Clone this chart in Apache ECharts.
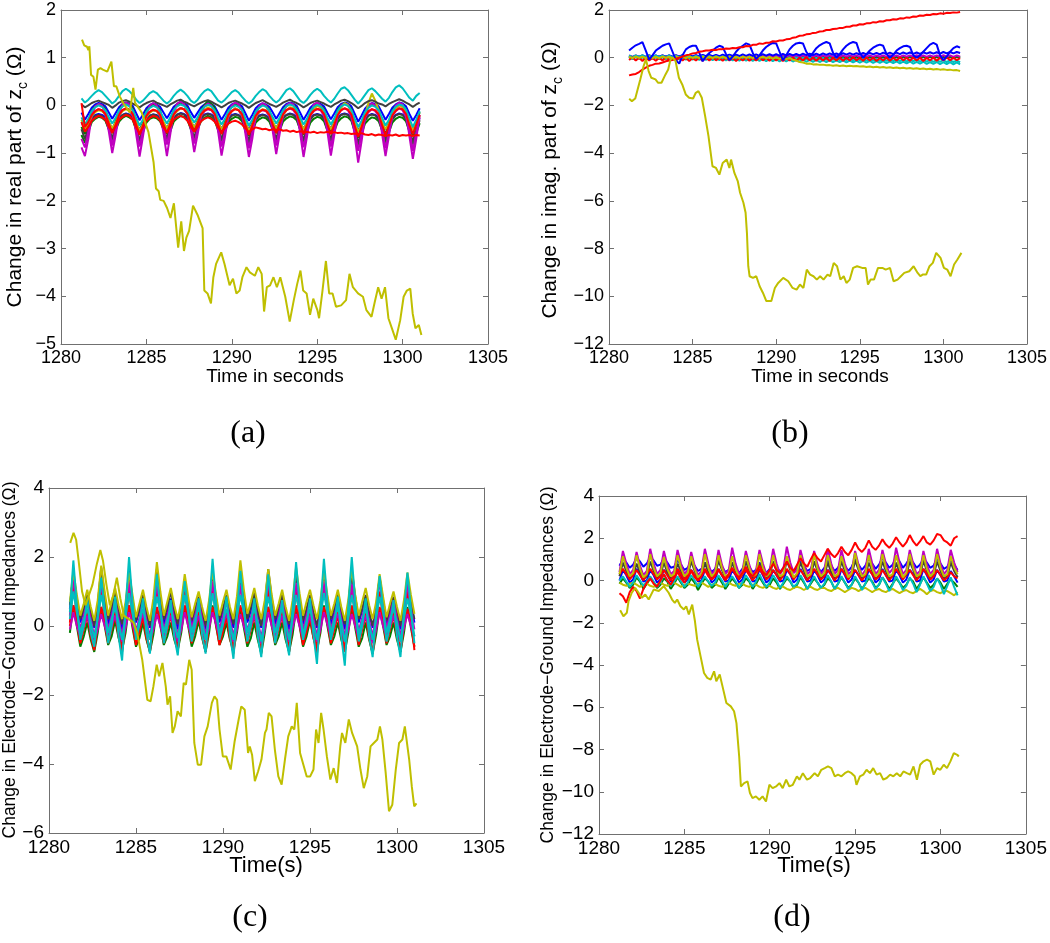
<!DOCTYPE html>
<html><head><meta charset="utf-8">
<script src="https://cdn.jsdelivr.net/npm/echarts@6/dist/echarts.min.js"></script>
<style>html,body{margin:0;padding:0;background:#fff}#c{width:1050px;height:943px}</style>
</head><body><div id="c"></div>
<script>
// common sample times (s)
const T = [
1281.2,1281.4,1281.6,1281.8,1282.0,1282.2,1282.4,1282.6,1282.8,1283.0,
1283.2,1283.4,1283.6,1283.8,1284.0,1284.2,1284.4,1284.6,1284.8,1285.0,
1285.2,1285.4,1285.6,1285.8,1286.0,1286.2,1286.4,1286.6,1286.8,1287.0,
1287.2,1287.4,1287.6,1287.8,1288.0,1288.2,1288.4,1288.6,1288.8,1289.0,
1289.2,1289.4,1289.6,1289.8,1290.0,1290.2,1290.4,1290.6,1290.8,1291.0,
1291.2,1291.4,1291.6,1291.8,1292.0,1292.2,1292.4,1292.6,1292.8,1293.0,
1293.2,1293.4,1293.6,1293.8,1294.0,1294.2,1294.4,1294.6,1294.8,1295.0,
1295.2,1295.4,1295.6,1295.8,1296.0,1296.2,1296.4,1296.6,1296.8,1297.0,
1297.2,1297.4,1297.6,1297.8,1298.0,1298.2,1298.4,1298.6,1298.8,1299.0,
1299.2,1299.4,1299.6,1299.8,1300.0,1300.2,1300.4,1300.6,1300.8,1301.0];

const xTicks = [1280,1285,1290,1295,1300,1305];

// ---------- panel (a): real part ----------
const aOut = [[1281.23,1.38],[1281.36,1.26],[1281.52,1.23],[1281.6,1.16],[1281.66,1.24],[1281.76,0.64],[1281.9,0.6],[1282.02,0.33],[1282.16,0.75],[1282.31,0.78],[1282.45,0.75],[1282.71,0.71],[1282.95,0.92],[1283.1,0.4],[1283.24,0.4],[1283.44,0.19],[1283.64,0.05],[1284.03,-0.15],[1284.23,0.37],[1284.33,0.06],[1284.73,-0.15],[1285.12,-0.56],[1285.42,-1.19],[1285.56,-1.74],[1285.72,-1.8],[1285.81,-1.98],[1286.01,-2.0],[1286.21,-2.15],[1286.41,-2.36],[1286.61,-2.05],[1286.7,-2.08],[1286.86,-2.98],[1287.04,-2.43],[1287.2,-3.05],[1287.34,-2.77],[1287.5,-2.63],[1287.73,-2.1],[1287.99,-2.29],[1288.29,-2.57],[1288.39,-3.88],[1288.58,-3.94],[1288.78,-4.15],[1288.92,-3.6],[1289.08,-3.32],[1289.38,-3.08],[1289.57,-3.32],[1289.87,-3.77],[1290.07,-3.63],[1290.27,-3.94],[1290.46,-3.88],[1290.62,-3.6],[1290.86,-3.39],[1291.06,-3.5],[1291.35,-3.57],[1291.55,-3.39],[1291.75,-3.53],[1291.89,-4.32],[1292.05,-3.81],[1292.24,-3.77],[1292.44,-3.6],[1292.64,-3.81],[1292.84,-3.6],[1293.13,-4.01],[1293.39,-4.53],[1293.63,-4.08],[1293.83,-3.74],[1294.02,-3.46],[1294.18,-3.88],[1294.38,-3.94],[1294.58,-4.39],[1294.77,-4.05],[1295.01,-4.29],[1295.11,-4.46],[1295.31,-3.88],[1295.51,-3.26],[1295.7,-3.94],[1295.9,-3.94],[1296.1,-4.22],[1296.4,-4.19],[1296.69,-4.08],[1296.89,-3.53],[1297.09,-3.81],[1297.39,-3.94],[1297.68,-4.01],[1297.88,-4.29],[1298.18,-4.43],[1298.37,-4.12],[1298.57,-3.81],[1298.77,-4.05],[1298.97,-3.81],[1299.17,-4.46],[1299.4,-4.7],[1299.6,-4.91],[1299.86,-4.5],[1300.06,-4.01],[1300.25,-3.88],[1300.45,-3.84],[1300.59,-4.36],[1300.75,-4.67],[1300.95,-4.6],[1301.1,-4.81]];
const aMagA = [-0.88,
-1.06,-0.7,-0.2,-0.02,0.03,0.0,-0.12,-0.55,
-1.0,-0.62,-0.18,0.02,0.06,0.02,-0.1,-0.6,
-1.07,-0.65,-0.2,0.0,0.05,0.0,-0.15,-0.58,
-1.06,-0.6,-0.15,0.04,0.08,0.03,-0.1,-0.5,
-0.98,-0.6,-0.2,-0.02,0.04,0.0,-0.12,-0.55,
-1.05,-0.66,-0.2,0.0,0.06,0.02,-0.1,-0.6,
-1.08,-0.7,-0.22,-0.02,0.05,0.0,-0.15,-0.55,
-1.02,-0.6,-0.18,0.0,0.05,0.02,-0.12,-0.58,
-1.08,-0.66,-0.2,0.02,0.06,0.0,-0.14,-0.56,
-1.05,-0.62,-0.18,0.0,0.04,0.02,-0.12,-0.65,
-1.2,-0.75,-0.25,-0.02,0.05,0.0,-0.12,-0.6,
-1.06,-0.64,-0.2,0.0,0.06,0.02,-0.15,-0.65,
-1.12,-0.7,-0.2];
const aMagB = [-0.7,
-0.88,-0.55,-0.22,-0.12,-0.08,-0.1,-0.2,-0.45,
-0.84,-0.5,-0.2,-0.1,-0.06,-0.1,-0.22,-0.48,
-0.86,-0.52,-0.24,-0.14,-0.1,-0.12,-0.2,-0.44,
-0.82,-0.48,-0.2,-0.1,-0.05,-0.08,-0.18,-0.42,
-0.8,-0.5,-0.22,-0.12,-0.08,-0.1,-0.2,-0.46,
-0.86,-0.55,-0.24,-0.12,-0.06,-0.1,-0.22,-0.5,
-0.9,-0.56,-0.25,-0.14,-0.1,-0.12,-0.22,-0.45,
-0.84,-0.5,-0.2,-0.1,-0.06,-0.1,-0.2,-0.46,
-0.88,-0.54,-0.22,-0.12,-0.08,-0.1,-0.22,-0.48,
-0.86,-0.52,-0.2,-0.1,-0.06,-0.1,-0.24,-0.52,
-0.95,-0.6,-0.26,-0.14,-0.08,-0.12,-0.22,-0.48,
-0.9,-0.55,-0.22,-0.12,-0.06,-0.1,-0.24,-0.52,
-0.95,-0.58,-0.25];
const aGrnA = [-0.62,
-0.78,-0.55,-0.35,-0.28,-0.24,-0.26,-0.32,-0.5,
-0.75,-0.52,-0.34,-0.26,-0.22,-0.25,-0.3,-0.52,
-0.8,-0.56,-0.36,-0.28,-0.25,-0.27,-0.33,-0.5,
-0.76,-0.54,-0.34,-0.27,-0.22,-0.24,-0.3,-0.5,
-0.72,-0.5,-0.33,-0.26,-0.22,-0.25,-0.32,-0.52,
-0.78,-0.55,-0.35,-0.28,-0.24,-0.26,-0.33,-0.54,
-0.8,-0.56,-0.36,-0.29,-0.25,-0.27,-0.34,-0.52,
-0.76,-0.53,-0.34,-0.27,-0.23,-0.25,-0.31,-0.5,
-0.8,-0.56,-0.36,-0.28,-0.24,-0.26,-0.33,-0.53,
-0.78,-0.54,-0.35,-0.27,-0.23,-0.25,-0.32,-0.55,
-0.85,-0.6,-0.38,-0.3,-0.25,-0.27,-0.33,-0.52,
-0.8,-0.56,-0.36,-0.28,-0.24,-0.26,-0.33,-0.55,
-0.82,-0.58,-0.37];
const aGrnB = [-0.45,
-0.6,-0.35,-0.12,-0.02,0.03,0.0,-0.08,-0.35,
-0.58,-0.32,-0.1,0.0,0.05,0.02,-0.06,-0.36,
-0.62,-0.36,-0.12,-0.02,0.02,0.0,-0.1,-0.38,
-0.6,-0.34,-0.1,0.02,0.06,0.03,-0.06,-0.34,
-0.56,-0.32,-0.1,0.0,0.1,0.04,-0.05,-0.35,
-0.6,-0.35,-0.12,-0.02,0.03,0.0,-0.08,-0.38,
-0.64,-0.38,-0.14,-0.04,0.02,0.0,-0.1,-0.36,
-0.58,-0.33,-0.1,0.0,0.04,0.02,-0.07,-0.36,
-0.62,-0.36,-0.12,-0.02,0.03,0.0,-0.08,-0.37,
-0.6,-0.34,-0.1,0.0,0.05,0.02,-0.08,-0.4,
-0.68,-0.4,-0.15,-0.03,0.03,0.0,-0.08,-0.38,
-0.62,-0.36,-0.12,-0.01,0.04,0.01,-0.09,-0.4,
-0.64,-0.38,-0.14];
const aBluA = [-0.35,
-0.5,-0.38,-0.26,-0.2,-0.18,-0.2,-0.24,-0.36,
-0.48,-0.36,-0.25,-0.2,-0.17,-0.19,-0.24,-0.38,
-0.5,-0.38,-0.27,-0.21,-0.19,-0.2,-0.25,-0.37,
-0.47,-0.35,-0.25,-0.19,-0.16,-0.18,-0.23,-0.35,
-0.45,-0.34,-0.24,-0.19,-0.17,-0.19,-0.24,-0.37,
-0.49,-0.37,-0.26,-0.2,-0.18,-0.2,-0.25,-0.38,
-0.5,-0.38,-0.27,-0.21,-0.19,-0.21,-0.26,-0.37,
-0.47,-0.35,-0.25,-0.2,-0.17,-0.19,-0.24,-0.36,
-0.49,-0.37,-0.26,-0.2,-0.18,-0.2,-0.25,-0.38,
-0.48,-0.36,-0.25,-0.19,-0.17,-0.19,-0.25,-0.39,
-0.52,-0.4,-0.28,-0.21,-0.18,-0.2,-0.25,-0.38,
-0.5,-0.38,-0.26,-0.2,-0.17,-0.19,-0.25,-0.39,
-0.5,-0.38,-0.27];
const aBluB = [-0.15,
-0.3,-0.18,-0.05,0.02,0.05,0.03,-0.02,-0.15,
-0.28,-0.16,-0.04,0.03,0.06,0.04,-0.01,-0.16,
-0.31,-0.19,-0.06,0.01,0.04,0.02,-0.03,-0.15,
-0.27,-0.15,-0.03,0.03,0.07,0.05,0.0,-0.14,
-0.26,-0.15,-0.04,0.02,0.05,0.03,-0.02,-0.16,
-0.3,-0.18,-0.05,0.02,0.05,0.03,-0.02,-0.17,
-0.32,-0.2,-0.06,0.01,0.04,0.02,-0.03,-0.15,
-0.28,-0.16,-0.04,0.03,0.06,0.04,-0.01,-0.15,
-0.3,-0.18,-0.05,0.02,0.05,0.03,-0.02,-0.16,
-0.29,-0.17,-0.04,0.03,0.06,0.04,-0.02,-0.18,
-0.34,-0.21,-0.07,0.01,0.05,0.03,-0.02,-0.16,
-0.3,-0.18,-0.05,0.02,0.06,0.04,-0.02,-0.18,
-0.32,-0.2,-0.06];
const aGryA = [0.02,
-0.04,0.0,0.05,0.08,0.1,0.07,0.04,0.01,
-0.05,0.0,0.06,0.09,0.11,0.08,0.04,0.0,
-0.04,0.01,0.05,0.08,0.1,0.06,0.03,0.0,
-0.03,0.02,0.06,0.1,0.12,0.08,0.05,0.01,
-0.02,0.02,0.06,0.09,0.11,0.08,0.04,0.0,
-0.04,0.0,0.05,0.08,0.1,0.07,0.04,0.0,
-0.05,0.0,0.05,0.08,0.11,0.07,0.03,0.0,
-0.03,0.01,0.06,0.09,0.12,0.08,0.05,0.01,
-0.04,0.0,0.05,0.08,0.1,0.07,0.04,0.0,
-0.03,0.02,0.06,0.1,0.12,0.09,0.05,0.0,
-0.06,-0.01,0.05,0.09,0.11,0.08,0.04,0.02,
-0.02,0.03,0.07,0.1,0.13,0.1,0.06,0.02,
-0.03,0.02,0.06];
const aGryB = [-0.5,
-0.7,-0.48,-0.3,-0.22,-0.2,-0.22,-0.3,-0.5,
-0.68,-0.46,-0.28,-0.2,-0.18,-0.2,-0.28,-0.5,
-0.72,-0.5,-0.3,-0.22,-0.19,-0.21,-0.3,-0.5,
-0.68,-0.46,-0.28,-0.2,-0.17,-0.19,-0.27,-0.48,
-0.66,-0.45,-0.28,-0.2,-0.18,-0.2,-0.28,-0.5,
-0.7,-0.48,-0.3,-0.22,-0.19,-0.21,-0.29,-0.52,
-0.73,-0.5,-0.31,-0.23,-0.2,-0.22,-0.3,-0.5,
-0.69,-0.47,-0.28,-0.2,-0.18,-0.2,-0.28,-0.5,
-0.72,-0.49,-0.3,-0.21,-0.19,-0.21,-0.29,-0.51,
-0.7,-0.48,-0.29,-0.2,-0.18,-0.2,-0.3,-0.54,
-0.78,-0.54,-0.32,-0.22,-0.19,-0.21,-0.29,-0.52,
-0.72,-0.5,-0.3,-0.21,-0.18,-0.2,-0.3,-0.54,
-0.75,-0.52,-0.31];
const aCyA = [0.15,
0.06,0.12,0.2,0.27,0.32,0.28,0.2,0.12,
0.04,0.1,0.2,0.3,0.35,0.3,0.22,0.12,
0.05,0.1,0.18,0.26,0.3,0.26,0.18,0.1,
0.04,0.1,0.2,0.28,0.33,0.28,0.2,0.1,
0.05,0.12,0.22,0.3,0.34,0.3,0.2,0.1,
0.06,0.12,0.2,0.28,0.32,0.27,0.18,0.1,
0.04,0.1,0.2,0.28,0.34,0.3,0.2,0.12,
0.06,0.12,0.22,0.32,0.36,0.3,0.2,0.1,
0.05,0.12,0.22,0.3,0.35,0.3,0.2,0.12,
0.06,0.14,0.25,0.35,0.38,0.32,0.22,0.12,
0.04,0.12,0.22,0.32,0.36,0.3,0.22,0.14,
0.08,0.16,0.28,0.38,0.42,0.36,0.26,0.16,
0.1,0.2,0.26];
const aCyB = [-0.25,
-0.4,-0.28,-0.12,-0.04,0.0,-0.03,-0.1,-0.25,
-0.38,-0.26,-0.1,-0.02,0.02,-0.02,-0.1,-0.26,
-0.42,-0.3,-0.13,-0.05,-0.01,-0.04,-0.12,-0.26,
-0.38,-0.25,-0.1,-0.02,0.02,-0.01,-0.08,-0.24,
-0.36,-0.25,-0.1,-0.03,0.01,-0.02,-0.1,-0.26,
-0.4,-0.28,-0.12,-0.04,0.0,-0.03,-0.1,-0.27,
-0.42,-0.3,-0.13,-0.05,0.0,-0.03,-0.11,-0.25,
-0.38,-0.26,-0.1,-0.02,0.02,-0.01,-0.09,-0.25,
-0.4,-0.28,-0.12,-0.03,0.01,-0.02,-0.1,-0.26,
-0.4,-0.27,-0.11,-0.02,0.02,-0.01,-0.1,-0.28,
-0.45,-0.32,-0.14,-0.05,0.0,-0.03,-0.1,-0.26,
-0.42,-0.3,-0.12,-0.03,0.02,0.0,-0.09,-0.28,
-0.45,-0.3,-0.12];
const aRedB = [0.05,
-0.45,-0.35,-0.2,-0.12,-0.08,-0.1,-0.18,-0.38,
-0.58,-0.4,-0.2,-0.1,-0.06,-0.09,-0.18,-0.4,
-0.62,-0.42,-0.22,-0.13,-0.09,-0.11,-0.2,-0.4,
-0.58,-0.38,-0.19,-0.1,-0.06,-0.08,-0.17,-0.37,
-0.55,-0.37,-0.19,-0.11,-0.07,-0.09,-0.18,-0.4,
-0.6,-0.4,-0.2,-0.12,-0.08,-0.1,-0.19,-0.41,
-0.62,-0.42,-0.22,-0.13,-0.09,-0.11,-0.2,-0.4,
-0.58,-0.38,-0.19,-0.1,-0.06,-0.08,-0.17,-0.39,
-0.6,-0.4,-0.2,-0.11,-0.07,-0.09,-0.18,-0.4,
-0.6,-0.4,-0.2,-0.1,-0.06,-0.09,-0.19,-0.43,
-0.66,-0.45,-0.23,-0.12,-0.08,-0.1,-0.19,-0.41,
-0.62,-0.42,-0.21,-0.11,-0.06,-0.08,-0.18,-0.42,
-0.6,-0.4,-0.2];
const aRedA = [-0.35,
-0.55,-0.45,-0.32,-0.26,-0.22,-0.25,-0.3,-0.45,
-0.55,-0.44,-0.3,-0.24,-0.2,-0.22,-0.3,-0.46,
-0.58,-0.46,-0.32,-0.26,-0.22,-0.24,-0.32,-0.46,
-0.56,-0.44,-0.3,-0.25,-0.22,-0.25,-0.32,-0.45,
-0.55,-0.45,-0.33,-0.28,-0.25,-0.28,-0.34,-0.46,
-0.56,-0.47,-0.38,-0.34,-0.32,-0.35,-0.4,-0.48,
-0.56,-0.5,-0.46,-0.48,-0.5,-0.49,-0.52,-0.5,
-0.52,-0.5,-0.53,-0.52,-0.55,-0.53,-0.56,-0.54,
-0.56,-0.55,-0.57,-0.55,-0.58,-0.56,-0.57,-0.55,
-0.58,-0.56,-0.58,-0.57,-0.59,-0.58,-0.6,-0.59,
-0.6,-0.58,-0.61,-0.62,-0.6,-0.63,-0.61,-0.62,
-0.64,-0.62,-0.63,-0.61,-0.64,-0.62,-0.63,-0.62,
-0.64,-0.62,-0.63];
const aYelB = [-0.3,
-0.5,-0.38,-0.22,-0.14,-0.1,-0.12,-0.18,-0.34,
-0.48,-0.36,-0.2,-0.12,-0.08,-0.1,-0.18,-0.35,
-0.52,-0.4,-0.24,-0.15,-0.1,-0.12,-0.2,-0.34,
-0.48,-0.35,-0.2,-0.12,-0.06,-0.08,-0.16,-0.32,
-0.46,-0.34,-0.2,-0.1,-0.04,-0.08,-0.18,-0.35,
-0.5,-0.38,-0.22,-0.12,-0.06,-0.1,-0.2,-0.36,
-0.52,-0.4,-0.24,-0.14,-0.08,-0.1,-0.2,-0.34,
-0.48,-0.35,-0.2,-0.1,-0.04,-0.06,-0.16,-0.34,
-0.5,-0.37,-0.2,-0.1,0.0,-0.05,-0.16,-0.35,
-0.5,-0.36,-0.18,-0.06,0.05,0.0,-0.12,-0.36,
-0.55,-0.4,-0.2,0.05,0.25,0.1,-0.1,-0.34,
-0.5,-0.38,-0.2,-0.08,0.0,-0.04,-0.16,-0.36,
-0.52,-0.38,-0.22];

// ---------- panel (b): imaginary part ----------
const bOut = [[1281.21,-1.72],[1281.37,-1.82],[1281.57,-1.71],[1281.67,-1.75],[1281.87,-0.91],[1282.07,-0.35],[1282.21,-0.07],[1282.37,-0.56],[1282.53,-0.84],[1282.78,-0.91],[1282.94,-1.05],[1283.14,-1.05],[1283.38,-0.7],[1283.54,-0.49],[1283.68,-0.07],[1283.82,0.0],[1283.98,-0.14],[1284.18,-0.84],[1284.38,-1.12],[1284.59,-1.54],[1284.79,-1.68],[1285.03,-1.71],[1285.19,-1.47],[1285.35,-1.4],[1285.55,-1.68],[1285.75,-2.45],[1285.95,-3.29],[1286.19,-4.55],[1286.4,-4.62],[1286.6,-4.9],[1286.8,-4.41],[1287.04,-4.27],[1287.2,-4.62],[1287.3,-4.27],[1287.5,-4.83],[1287.7,-5.17],[1287.84,-5.66],[1288.04,-6.08],[1288.17,-6.5],[1288.25,-7.34],[1288.33,-8.74],[1288.41,-9.16],[1288.61,-9.23],[1288.81,-9.16],[1289.01,-9.58],[1289.21,-9.86],[1289.41,-10.2],[1289.71,-10.2],[1289.92,-9.65],[1290.12,-9.44],[1290.42,-9.23],[1290.72,-9.37],[1290.98,-9.65],[1291.22,-9.72],[1291.42,-9.51],[1291.63,-9.65],[1291.83,-8.88],[1292.03,-9.09],[1292.23,-9.16],[1292.43,-9.3],[1292.63,-9.16],[1292.83,-9.3],[1293.07,-9.09],[1293.23,-9.16],[1293.44,-8.6],[1293.64,-8.74],[1293.84,-9.3],[1294.04,-9.16],[1294.2,-9.44],[1294.4,-9.3],[1294.6,-8.81],[1294.84,-8.74],[1295.14,-8.81],[1295.35,-8.81],[1295.49,-9.51],[1295.65,-9.3],[1295.85,-9.3],[1296.09,-8.81],[1296.35,-8.81],[1296.55,-8.88],[1296.81,-8.81],[1297.02,-9.37],[1297.26,-9.3],[1297.46,-9.16],[1297.66,-9.02],[1297.96,-8.95],[1298.22,-8.74],[1298.46,-9.02],[1298.62,-9.16],[1298.76,-9.09],[1298.97,-9.09],[1299.17,-8.74],[1299.37,-8.6],[1299.57,-8.18],[1299.83,-8.39],[1300.03,-8.81],[1300.23,-8.88],[1300.43,-9.16],[1300.64,-8.67],[1300.84,-8.46],[1301.08,-8.18]];
const bRedUp = [
-0.74,-0.7,-0.68,-0.6,-0.5,-0.42,-0.34,-0.3,-0.25,-0.24,
-0.2,-0.15,-0.12,-0.1,-0.04,0.0,0.05,0.1,0.13,0.18,
0.2,0.25,0.27,0.3,0.3,0.33,0.32,0.36,0.36,0.39,
0.38,0.41,0.4,0.44,0.44,0.49,0.48,0.54,0.54,0.6,
0.58,0.63,0.63,0.69,0.68,0.72,0.72,0.77,0.78,0.84,
0.86,0.92,0.93,0.98,0.99,1.04,1.05,1.1,1.11,1.16,
1.16,1.2,1.21,1.25,1.25,1.3,1.3,1.35,1.35,1.4,
1.39,1.44,1.44,1.49,1.48,1.53,1.52,1.57,1.57,1.61,
1.6,1.65,1.64,1.69,1.68,1.73,1.72,1.77,1.76,1.8,
1.79,1.83,1.82,1.86,1.84,1.88,1.87,1.9,1.89,1.92];
const bBluOsc = [
0.3,0.42,0.52,0.58,0.65,0.3,-0.08,0.1,0.3,0.4,
0.5,0.56,0.6,0.25,-0.1,-0.25,0.1,0.35,0.45,0.5,
0.5,0.2,-0.15,0.05,0.2,0.3,0.42,0.5,0.45,0.15,
-0.1,0.05,0.25,0.4,0.5,0.6,0.55,0.2,-0.05,0.1,
0.3,0.45,0.55,0.62,0.6,0.25,-0.1,0.1,0.35,0.5,
0.6,0.63,0.6,0.25,0.05,0.2,0.4,0.52,0.6,0.66,
0.6,0.2,0.0,0.15,0.35,0.5,0.6,0.66,0.62,0.2,
0.0,0.15,0.3,0.42,0.5,0.55,0.5,0.15,0.0,0.12,
0.3,0.4,0.48,0.5,0.45,0.1,0.0,0.1,0.25,0.4,
0.55,0.62,0.55,0.1,-0.1,0.05,0.25,0.4,0.48,0.42];
const bRedW = [
-0.1,0.02,-0.12,0.0,-0.14,0.01,-0.12,-0.01,-0.13,0.0,
-0.12,0.02,-0.11,0.0,-0.13,0.01,-0.12,0.0,-0.14,-0.01,
-0.12,0.01,-0.13,0.0,-0.12,0.02,-0.11,0.0,-0.13,0.01,
-0.12,0.0,-0.14,0.0,-0.12,0.01,-0.13,0.0,-0.12,0.02,
-0.11,0.0,-0.13,0.01,-0.12,0.0,-0.14,-0.01,-0.12,0.01,
-0.13,0.0,-0.12,0.02,-0.11,0.0,-0.13,0.01,-0.12,0.0,
-0.14,0.0,-0.12,0.01,-0.13,0.0,-0.12,0.02,-0.11,0.0,
-0.13,0.01,-0.12,0.0,-0.14,-0.01,-0.12,0.01,-0.13,0.0,
-0.12,0.02,-0.11,0.0,-0.13,0.01,-0.12,0.0,-0.14,0.0,
-0.12,0.01,-0.13,0.0,-0.12,0.02,-0.11,0.0,-0.1,-0.02];
const bCyA = [
0.1,0.02,0.1,0.03,0.11,0.02,0.1,0.03,0.1,0.02,
0.09,0.02,0.1,0.01,0.09,0.02,0.09,0.01,0.08,0.0,
0.08,0.01,0.08,0.0,0.07,0.0,0.07,-0.01,0.06,-0.01,
0.06,-0.02,0.05,-0.02,0.05,-0.03,0.04,-0.03,0.04,-0.04,
0.03,-0.04,0.03,-0.05,0.02,-0.05,0.02,-0.06,0.01,-0.06,
0.01,-0.07,0.0,-0.07,0.0,-0.08,-0.01,-0.08,-0.01,-0.09,
-0.02,-0.09,-0.02,-0.1,-0.03,-0.1,-0.03,-0.11,-0.04,-0.11,
-0.04,-0.12,-0.05,-0.12,-0.05,-0.13,-0.06,-0.13,-0.06,-0.14,
-0.07,-0.14,-0.07,-0.15,-0.08,-0.15,-0.08,-0.16,-0.09,-0.16,
-0.09,-0.17,-0.1,-0.17,-0.1,-0.18,-0.11,-0.18,-0.12,-0.19];
const bCyB = [
0.02,-0.06,0.03,-0.05,0.02,-0.06,0.03,-0.05,0.02,-0.06,
0.01,-0.06,0.02,-0.07,0.01,-0.07,0.01,-0.08,0.0,-0.08,
0.0,-0.09,-0.01,-0.09,-0.01,-0.1,-0.02,-0.1,-0.02,-0.11,
-0.03,-0.11,-0.03,-0.12,-0.04,-0.12,-0.04,-0.13,-0.05,-0.13,
-0.05,-0.14,-0.06,-0.14,-0.06,-0.15,-0.07,-0.15,-0.07,-0.16,
-0.08,-0.16,-0.08,-0.17,-0.09,-0.17,-0.09,-0.18,-0.1,-0.18,
-0.1,-0.19,-0.11,-0.19,-0.11,-0.2,-0.12,-0.2,-0.12,-0.21,
-0.13,-0.21,-0.13,-0.22,-0.14,-0.22,-0.14,-0.23,-0.15,-0.23,
-0.15,-0.24,-0.16,-0.24,-0.16,-0.25,-0.17,-0.25,-0.17,-0.26,
-0.18,-0.26,-0.18,-0.27,-0.19,-0.27,-0.19,-0.28,-0.2,-0.28];
const bGrn = [
0.06,0.0,0.07,0.01,0.06,0.0,0.07,0.01,0.06,0.0,
0.07,0.01,0.06,0.0,0.07,0.02,0.06,0.0,0.07,0.01,
0.06,0.0,0.07,0.01,0.06,0.0,0.07,0.01,0.06,0.0,
0.07,0.01,0.06,0.0,0.07,0.02,0.06,0.0,0.07,0.01,
0.06,0.0,0.07,0.01,0.06,0.0,0.07,0.01,0.06,0.0,
0.07,0.01,0.06,0.0,0.07,0.02,0.06,0.0,0.07,0.01,
0.06,0.0,0.07,0.01,0.06,0.0,0.07,0.01,0.06,0.0,
0.07,0.01,0.06,0.0,0.07,0.02,0.06,0.0,0.07,0.01,
0.06,0.0,0.07,0.01,0.06,0.0,0.07,0.01,0.06,0.0,
0.07,0.01,0.06,0.0,0.07,0.02,0.06,0.0,0.07,0.01];
const bGry = [
0.03,-0.03,0.04,-0.02,0.03,-0.03,0.04,-0.02,0.03,-0.03,
0.04,-0.02,0.03,-0.03,0.04,-0.02,0.03,-0.03,0.04,-0.02,
0.03,-0.03,0.04,-0.02,0.03,-0.03,0.04,-0.02,0.03,-0.03,
0.04,-0.02,0.03,-0.03,0.04,-0.02,0.03,-0.03,0.04,-0.02,
0.03,-0.03,0.04,-0.02,0.03,-0.03,0.04,-0.02,0.03,-0.03,
0.04,-0.02,0.03,-0.03,0.04,-0.02,0.03,-0.03,0.04,-0.02,
0.03,-0.03,0.04,-0.02,0.03,-0.03,0.04,-0.02,0.03,-0.03,
0.04,-0.02,0.03,-0.03,0.04,-0.02,0.03,-0.03,0.04,-0.02,
0.03,-0.03,0.04,-0.02,0.03,-0.03,0.04,-0.02,0.03,-0.03,
0.04,-0.02,0.03,-0.03,0.04,-0.02,0.03,-0.03,0.04,-0.02];
const bMag = [
0.1,0.03,0.1,0.04,0.1,0.03,0.11,0.04,0.1,0.03,
0.1,0.04,0.1,0.03,0.11,0.04,0.1,0.03,0.1,0.04,
0.1,0.03,0.11,0.04,0.1,0.03,0.1,0.04,0.1,0.03,
0.11,0.04,0.1,0.03,0.1,0.04,0.1,0.03,0.11,0.04,
0.1,0.03,0.1,0.04,0.1,0.03,0.11,0.04,0.1,0.03,
0.1,0.04,0.1,0.03,0.11,0.04,0.1,0.03,0.1,0.04,
0.1,0.03,0.11,0.04,0.1,0.03,0.1,0.04,0.1,0.03,
0.11,0.04,0.1,0.03,0.1,0.04,0.1,0.03,0.11,0.04,
0.1,0.03,0.1,0.04,0.1,0.03,0.11,0.04,0.1,0.03,
0.1,0.04,0.1,0.03,0.11,0.04,0.1,0.03,0.1,0.04];
const bBluB = [
0.08,0.02,0.08,0.03,0.09,0.03,0.09,0.03,0.09,0.04,
0.1,0.04,0.1,0.04,0.1,0.05,0.11,0.05,0.11,0.05,
0.11,0.05,0.12,0.06,0.12,0.06,0.12,0.06,0.13,0.07,
0.13,0.07,0.13,0.07,0.14,0.08,0.14,0.08,0.14,0.08,
0.15,0.09,0.15,0.09,0.15,0.09,0.16,0.1,0.16,0.1,
0.16,0.1,0.17,0.11,0.17,0.11,0.17,0.11,0.18,0.12,
0.18,0.12,0.18,0.12,0.19,0.13,0.19,0.13,0.19,0.13,
0.2,0.14,0.2,0.14,0.2,0.14,0.21,0.15,0.21,0.15,
0.21,0.15,0.22,0.16,0.22,0.16,0.22,0.16,0.23,0.17,
0.23,0.17,0.23,0.17,0.24,0.18,0.24,0.18,0.24,0.2];
const bYelB = [
0.04,-0.02,0.05,-0.01,0.04,-0.02,0.05,-0.01,0.04,-0.02,
0.05,-0.01,0.04,-0.02,0.05,-0.01,0.04,-0.02,0.05,-0.01,
0.04,-0.02,0.05,-0.01,0.04,-0.02,0.05,-0.01,0.04,-0.02,
0.05,-0.01,0.04,-0.02,0.05,-0.01,0.04,-0.02,0.05,-0.01,
0.04,-0.02,0.03,-0.04,0.02,-0.05,0.0,-0.06,-0.02,-0.08,
-0.12,-0.18,-0.2,-0.25,-0.24,-0.28,-0.27,-0.3,-0.29,-0.32,
-0.31,-0.34,-0.32,-0.35,-0.33,-0.36,-0.34,-0.36,-0.35,-0.37,
-0.36,-0.39,-0.37,-0.4,-0.38,-0.41,-0.39,-0.42,-0.4,-0.43,
-0.41,-0.44,-0.42,-0.45,-0.43,-0.46,-0.44,-0.47,-0.45,-0.48,
-0.46,-0.49,-0.47,-0.5,-0.48,-0.51,-0.5,-0.53,-0.52,-0.56];

// ---------- panel (c): electrode-ground impedances (real) ----------
const cOut = [[1281.22,2.41],[1281.41,2.7],[1281.56,2.5],[1281.7,1.9],[1281.9,1.0],[1282.1,0.6],[1282.3,0.9],[1282.5,1.2],[1282.75,1.8],[1282.95,2.2],[1283.1,1.9],[1283.3,1.2],[1283.5,0.6],[1283.7,0.9],[1283.9,1.4],[1284.1,0.8],[1284.3,0.3],[1284.6,0.2],[1284.85,0.1],[1285.07,-0.2],[1285.36,-0.98],[1285.65,-2.14],[1285.84,-2.18],[1286.0,-1.75],[1286.19,-1.12],[1286.33,-1.46],[1286.52,-1.07],[1286.71,-1.75],[1286.81,-2.28],[1286.96,-2.04],[1287.1,-3.1],[1287.23,-2.91],[1287.39,-2.47],[1287.58,-2.62],[1287.74,-1.65],[1287.87,-1.7],[1288.06,-0.98],[1288.2,-1.27],[1288.35,-3.39],[1288.55,-4.02],[1288.74,-4.02],[1288.93,-3.2],[1289.12,-2.91],[1289.36,-2.23],[1289.51,-2.04],[1289.66,-2.14],[1289.8,-3.0],[1289.99,-3.78],[1290.19,-3.78],[1290.44,-4.16],[1290.67,-3.34],[1290.9,-2.71],[1291.05,-2.33],[1291.25,-2.43],[1291.44,-3.68],[1291.54,-3.49],[1291.67,-3.73],[1291.83,-4.5],[1292.02,-4.21],[1292.21,-3.87],[1292.41,-3.1],[1292.5,-3.0],[1292.63,-2.52],[1292.79,-2.62],[1292.98,-3.58],[1293.18,-4.36],[1293.37,-4.6],[1293.56,-3.87],[1293.75,-3.2],[1293.95,-2.91],[1294.1,-3.0],[1294.24,-2.23],[1294.43,-3.68],[1294.62,-4.02],[1294.81,-4.36],[1295.01,-4.36],[1295.2,-4.16],[1295.35,-3.0],[1295.49,-3.39],[1295.64,-2.52],[1295.78,-3.0],[1295.97,-3.78],[1296.17,-4.45],[1296.36,-4.12],[1296.55,-4.55],[1296.74,-3.49],[1296.84,-3.1],[1297.03,-3.39],[1297.23,-2.71],[1297.42,-3.1],[1297.71,-3.49],[1297.9,-4.16],[1298.09,-4.7],[1298.29,-4.36],[1298.48,-3.49],[1298.67,-3.39],[1298.87,-3.29],[1299.02,-2.91],[1299.16,-3.29],[1299.35,-4.26],[1299.54,-5.37],[1299.73,-5.18],[1299.93,-4.16],[1300.12,-3.39],[1300.31,-3.29],[1300.45,-2.91],[1300.56,-2.86],[1300.7,-3.87],[1300.85,-4.65],[1300.99,-5.23],[1301.12,-5.14]];
const cGry = [0.6,
1.5,0.8,0.2,0.5,0.9,0.4,0.0,0.6,
1.7,0.85,0.2,0.55,0.95,0.45,0.05,0.55,
1.4,0.75,0.15,0.5,0.9,0.4,0.0,0.6,
1.65,0.8,0.2,0.55,1.0,0.45,0.05,0.55,
1.3,0.7,0.15,0.5,0.85,0.4,0.0,0.6,
1.45,0.8,0.2,0.5,0.9,0.45,0.05,0.6,
1.6,0.85,0.2,0.55,0.95,0.45,0.0,0.6,
1.65,0.8,0.2,0.5,0.9,0.4,0.05,0.55,
1.5,0.75,0.15,0.5,0.9,0.4,0.0,0.55,
1.45,0.8,0.2,0.55,0.95,0.45,0.05,0.6,
1.6,0.85,0.2,0.5,0.9,0.4,0.0,0.55,
1.4,0.75,0.15,0.5,0.85,0.4,0.0,0.6,
1.35,0.7,0.2];
const cBlu = [0.5,
1.55,0.7,0.1,0.45,0.85,0.35,-0.05,0.5,
1.4,0.7,0.05,0.4,0.8,0.3,-0.1,0.5,
1.6,0.75,0.1,0.45,0.85,0.35,-0.05,0.45,
1.45,0.7,0.05,0.4,0.8,0.3,-0.1,0.5,
1.35,0.65,0.05,0.4,0.8,0.3,-0.1,0.55,
1.5,0.7,0.1,0.45,0.85,0.35,-0.05,0.55,
1.55,0.75,0.1,0.45,0.85,0.35,-0.05,0.5,
1.45,0.7,0.05,0.4,0.8,0.3,-0.1,0.5,
1.45,0.7,0.05,0.4,0.8,0.35,-0.05,0.5,
1.35,0.65,0.05,0.4,0.8,0.3,-0.1,0.55,
1.55,0.75,0.1,0.45,0.85,0.35,-0.05,0.5,
1.35,0.65,0.05,0.4,0.8,0.3,-0.1,0.55,
1.4,0.7,0.1];
const cYelB = [0.7,
1.6,0.9,0.3,0.65,1.05,0.55,0.15,0.75,
1.75,1.0,0.3,0.7,1.1,0.6,0.2,0.7,
1.55,0.9,0.25,0.65,1.05,0.55,0.15,0.8,
1.85,1.0,0.3,0.7,1.1,0.6,0.2,0.7,
1.5,0.85,0.25,0.65,1.0,0.55,0.15,0.75,
1.6,0.9,0.3,0.7,1.05,0.55,0.2,0.85,
1.9,1.05,0.35,0.7,1.1,0.6,0.2,0.75,
1.65,0.9,0.3,0.65,1.05,0.55,0.15,0.75,
1.7,0.95,0.3,0.7,1.05,0.6,0.2,0.75,
1.6,0.9,0.3,0.65,1.05,0.55,0.15,0.75,
1.65,0.9,0.3,0.7,1.1,0.6,0.2,0.7,
1.5,0.85,0.25,0.65,1.0,0.55,0.15,0.75,
1.55,0.9,0.35];
const cMag = [0.3,
1.4,0.5,-0.1,0.3,0.7,0.2,-0.3,0.3,
1.25,0.5,-0.1,0.3,0.75,0.2,-0.25,0.35,
1.3,0.45,-0.15,0.25,0.7,0.15,-0.3,0.3,
1.2,0.5,-0.1,0.3,0.7,0.2,-0.3,0.35,
1.35,0.55,-0.05,0.3,0.75,0.2,-0.25,0.3,
1.3,0.5,-0.1,0.3,0.7,0.2,-0.3,0.3,
1.2,0.45,-0.15,0.25,0.7,0.15,-0.35,0.3,
1.35,0.5,-0.1,0.3,0.75,0.2,-0.3,0.3,
1.25,0.5,-0.1,0.3,0.7,0.2,-0.3,0.35,
1.3,0.5,-0.1,0.3,0.7,0.2,-0.3,0.3,
1.2,0.45,-0.15,0.25,0.7,0.15,-0.3,0.35,
1.4,0.55,-0.05,0.3,0.75,0.2,-0.3,0.3,
1.25,0.5,-0.1];
const cRed = [0.1,
1.2,0.3,-0.45,0.0,0.4,-0.2,-0.6,0.1,
1.1,0.3,-0.4,0.0,0.45,-0.2,-0.55,0.15,
1.05,0.25,-0.45,-0.05,0.4,-0.25,-0.7,0.1,
1.15,0.3,-0.4,0.0,0.4,-0.2,-0.6,0.1,
1.0,0.25,-0.45,0.0,0.4,-0.2,-0.6,0.15,
1.1,0.3,-0.4,0.0,0.45,-0.2,-0.65,0.1,
1.3,0.35,-0.45,-0.05,0.4,-0.25,-0.75,0.1,
1.1,0.3,-0.4,0.0,0.4,-0.2,-0.6,0.1,
1.05,0.25,-0.45,0.0,0.4,-0.2,-0.6,0.15,
1.35,0.35,-0.4,0.0,0.45,-0.2,-0.65,0.1,
1.1,0.3,-0.45,-0.05,0.4,-0.25,-0.8,0.1,
1.0,0.25,-0.4,0.0,0.4,-0.2,-0.7,0.05,
1.05,0.3,-0.7];
const cGrn = [-0.2,
0.6,0.0,-0.6,-0.3,0.1,-0.4,-0.75,-0.2,
0.55,0.0,-0.55,-0.3,0.15,-0.35,-0.7,-0.2,
0.6,-0.05,-0.6,-0.35,0.1,-0.4,-0.75,-0.25,
0.5,0.0,-0.55,-0.3,0.1,-0.4,-0.7,-0.2,
0.55,0.0,-0.6,-0.3,0.15,-0.35,-0.75,-0.2,
0.6,0.0,-0.55,-0.3,0.1,-0.4,-0.7,-0.2,
0.5,-0.05,-0.6,-0.35,0.1,-0.4,-0.8,-0.2,
0.55,0.0,-0.55,-0.3,0.1,-0.4,-0.75,-0.25,
0.5,0.0,-0.6,-0.3,0.15,-0.35,-0.7,-0.2,
0.6,0.0,-0.55,-0.3,0.1,-0.4,-0.75,-0.2,
0.55,-0.05,-0.6,-0.35,0.1,-0.4,-0.8,-0.25,
0.5,0.0,-0.55,-0.3,0.1,-0.4,-0.75,-0.2,
0.55,-0.05,-0.6];
const cCyA = [0.4,
1.9,0.6,-0.4,0.0,0.8,-0.2,-0.6,0.3,
1.4,0.5,-0.5,0.0,0.85,-0.3,-1.0,0.5,
2.0,0.7,-0.4,0.05,0.8,-0.2,-0.8,0.4,
1.5,0.5,-0.5,0.0,0.75,-0.3,-0.85,0.35,
1.3,0.45,-0.45,0.0,0.8,-0.25,-0.8,0.5,
1.95,0.7,-0.4,0.05,0.85,-0.25,-0.95,0.4,
1.6,0.55,-0.45,0.0,0.8,-0.3,-0.9,0.35,
1.5,0.5,-0.5,0.0,0.75,-0.3,-0.85,0.5,
1.85,0.65,-0.4,0.05,0.8,-0.25,-1.1,0.5,
1.95,0.7,-0.4,0.05,0.85,-0.3,-1.15,0.55,
2.0,0.7,-0.45,0.0,0.8,-0.3,-0.9,0.35,
1.45,0.5,-0.45,0.0,0.75,-0.3,-0.9,0.45,
1.55,0.5,-0.5];
const cCyB = [0.2,
1.0,0.4,-0.2,0.2,0.5,0.1,-0.35,0.2,
0.9,0.4,-0.2,0.2,0.55,0.1,-0.4,0.25,
0.95,0.35,-0.25,0.15,0.5,0.05,-0.4,0.2,
0.85,0.4,-0.2,0.2,0.5,0.1,-0.35,0.2,
0.9,0.4,-0.2,0.2,0.55,0.1,-0.4,0.2,
0.95,0.35,-0.25,0.15,0.5,0.05,-0.4,0.25,
0.9,0.4,-0.2,0.2,0.5,0.1,-0.45,0.2,
0.85,0.35,-0.2,0.2,0.55,0.1,-0.4,0.2,
0.9,0.4,-0.25,0.15,0.5,0.05,-0.4,0.25,
0.95,0.4,-0.2,0.2,0.55,0.1,-0.45,0.2,
0.9,0.35,-0.25,0.15,0.5,0.05,-0.4,0.2,
0.85,0.4,-0.2,0.2,0.5,0.1,-0.45,0.2,
0.8,0.35,-0.3];
const cRedB = [0.0,
0.6,0.1,-0.5,-0.1,0.3,-0.3,-0.7,0.0,
0.55,0.1,-0.5,-0.1,0.3,-0.3,-0.75,0.0,
0.6,0.05,-0.55,-0.15,0.25,-0.35,-0.75,0.05,
0.55,0.1,-0.5,-0.1,0.3,-0.3,-0.7,0.0,
0.6,0.1,-0.5,-0.1,0.3,-0.3,-0.75,0.0,
0.55,0.05,-0.55,-0.15,0.25,-0.35,-0.8,0.0,
0.6,0.1,-0.5,-0.1,0.3,-0.3,-0.7,0.05,
0.55,0.1,-0.5,-0.1,0.3,-0.3,-0.75,0.0,
0.6,0.05,-0.55,-0.15,0.25,-0.35,-0.8,0.0,
0.55,0.1,-0.5,-0.1,0.3,-0.3,-0.75,0.0,
0.6,0.1,-0.55,-0.1,0.3,-0.35,-0.8,0.05,
0.55,0.1,-0.5,-0.1,0.3,-0.3,-0.75,0.0,
0.5,0.05,-0.6];
const cMagB = [-0.1,
0.4,0.0,-0.3,0.0,0.3,-0.1,-0.4,-0.1,
0.35,0.0,-0.3,0.0,0.3,-0.1,-0.45,-0.05,
0.4,0.05,-0.3,0.05,0.35,-0.05,-0.4,-0.1,
0.35,0.0,-0.35,0.0,0.3,-0.1,-0.45,-0.1,
0.4,0.0,-0.3,0.0,0.3,-0.1,-0.4,-0.05,
0.4,0.05,-0.3,0.05,0.35,-0.05,-0.45,-0.1,
0.35,0.0,-0.35,0.0,0.3,-0.1,-0.5,-0.1,
0.4,0.0,-0.3,0.0,0.3,-0.1,-0.45,-0.05,
0.35,0.0,-0.35,0.0,0.3,-0.1,-0.45,-0.1,
0.4,0.05,-0.3,0.05,0.35,-0.05,-0.45,-0.1,
0.35,0.0,-0.35,0.0,0.3,-0.1,-0.5,-0.1,
0.4,0.0,-0.3,0.0,0.3,-0.1,-0.45,-0.05,
0.35,0.0,-0.3];

// ---------- panel (d): electrode-ground impedances (imag) ----------
const dOut = [[1281.24,-1.41],[1281.43,-1.69],[1281.63,-1.53],[1281.73,-0.98],[1281.92,-0.58],[1282.12,-0.35],[1282.32,-0.58],[1282.51,-0.82],[1282.71,-0.66],[1282.91,-0.9],[1283.2,-0.43],[1283.5,-0.5],[1283.79,-0.27],[1284.08,-0.58],[1284.28,-0.9],[1284.44,-1.06],[1284.58,-0.9],[1284.77,-1.22],[1284.97,-1.37],[1285.11,-1.22],[1285.26,-1.61],[1285.46,-1.14],[1285.62,-1.93],[1285.75,-2.8],[1285.95,-3.59],[1286.15,-4.38],[1286.34,-4.61],[1286.54,-4.69],[1286.74,-4.3],[1286.87,-4.77],[1287.07,-4.45],[1287.23,-5.0],[1287.46,-5.8],[1287.72,-5.96],[1287.91,-6.19],[1288.05,-6.75],[1288.21,-8.33],[1288.31,-9.75],[1288.5,-9.59],[1288.7,-9.51],[1288.84,-10.06],[1288.99,-10.3],[1289.19,-10.22],[1289.39,-10.38],[1289.58,-10.22],[1289.78,-10.46],[1289.98,-9.67],[1290.17,-9.83],[1290.37,-9.75],[1290.57,-9.59],[1290.76,-9.83],[1290.96,-9.43],[1291.15,-9.75],[1291.35,-9.67],[1291.59,-9.27],[1291.74,-9.43],[1291.94,-9.12],[1292.18,-9.43],[1292.37,-9.35],[1292.63,-9.12],[1292.82,-9.27],[1293.02,-8.96],[1293.22,-8.88],[1293.41,-8.8],[1293.61,-8.88],[1293.81,-9.27],[1294.0,-9.19],[1294.2,-9.27],[1294.4,-9.12],[1294.59,-9.04],[1294.79,-9.12],[1294.98,-9.27],[1295.08,-9.67],[1295.28,-9.27],[1295.48,-9.19],[1295.67,-8.96],[1295.87,-9.12],[1296.06,-8.88],[1296.26,-9.19],[1296.46,-9.12],[1296.65,-9.43],[1296.85,-9.35],[1297.05,-9.19],[1297.24,-9.27],[1297.44,-9.12],[1297.64,-9.27],[1297.83,-9.04],[1298.03,-9.12],[1298.22,-9.19],[1298.42,-8.8],[1298.62,-9.43],[1298.81,-8.72],[1299.01,-8.56],[1299.21,-8.48],[1299.4,-8.56],[1299.6,-9.19],[1299.8,-8.88],[1299.99,-8.96],[1300.19,-8.72],[1300.38,-8.88],[1300.58,-8.56],[1300.78,-8.17],[1300.98,-8.25],[1301.07,-8.33]];
const dMag = [0.4,1.4,0.8,0.3, 0.5,1.35,0.7,0.25, 0.45,1.5,0.8,0.3, 0.5,1.4,0.75,0.3, 0.45,1.45,0.8,0.3, 0.5,1.35,0.7,0.25, 0.45,1.5,0.8,0.3, 0.5,1.45,0.75,0.3, 0.5,1.55,0.8,0.3, 0.45,1.4,0.75,0.25, 0.5,1.45,0.8,0.3, 0.5,1.5,0.8,0.3, 0.55,1.6,0.85,0.35, 0.5,1.45,0.8,0.3, 0.45,1.4,0.75,0.3, 0.5,1.5,0.8,0.3, 0.5,1.45,0.8,0.3, 0.45,1.4,0.75,0.25, 0.5,1.5,0.8,0.3, 0.5,1.45,0.8,0.35, 0.55,1.55,0.85,0.3, 0.5,1.45,0.8,0.3, 0.45,1.4,0.75,0.3, 0.5,1.5,0.8,0.3, 0.5,1.45,0.85,0.4];
const dYelB = [0.3,1.15,0.6,0.2, 0.35,1.2,0.55,0.15, 0.3,1.25,0.6,0.2, 0.35,1.1,0.55,0.2, 0.3,1.2,0.6,0.2, 0.35,1.15,0.55,0.15, 0.3,1.25,0.6,0.2, 0.35,1.2,0.6,0.2, 0.3,1.15,0.55,0.15, 0.35,1.2,0.6,0.2, 0.3,1.25,0.6,0.2, 0.35,1.2,0.55,0.2, 0.3,1.15,0.6,0.15, 0.35,1.2,0.6,0.2, 0.3,1.25,0.55,0.2, 0.35,1.2,0.6,0.2, 0.3,1.15,0.6,0.15, 0.35,1.3,0.6,0.2, 0.3,1.2,0.55,0.2, 0.35,1.25,0.6,0.2, 0.3,1.2,0.6,0.15, 0.35,1.25,0.6,0.2, 0.3,1.2,0.55,0.2, 0.35,1.25,0.6,0.2, 0.3,1.15,0.6,0.3];
const dGry = [0.2,0.85,0.45,0.1, 0.25,0.8,0.4,0.05, 0.2,0.9,0.45,0.1, 0.25,0.85,0.4,0.1, 0.2,0.8,0.45,0.05, 0.25,0.9,0.45,0.1, 0.2,0.85,0.4,0.1, 0.25,0.95,0.5,0.1, 0.2,0.85,0.45,0.05, 0.25,0.9,0.45,0.1, 0.2,0.8,0.4,0.1, 0.25,0.9,0.45,0.1, 0.2,0.95,0.5,0.1, 0.25,0.85,0.45,0.05, 0.2,0.9,0.45,0.1, 0.25,0.85,0.4,0.1, 0.2,0.9,0.45,0.1, 0.25,0.95,0.5,0.1, 0.2,0.85,0.45,0.05, 0.25,0.9,0.45,0.1, 0.2,0.85,0.4,0.1, 0.25,0.9,0.5,0.1, 0.2,0.95,0.45,0.05, 0.25,0.9,0.45,0.1, 0.2,0.85,0.45,0.15];
const dBlu = [0.7,1.0,0.85,0.6, 0.75,1.05,0.9,0.65, 0.8,1.1,0.95,0.7, 0.75,1.05,0.85,0.6, 0.65,0.95,0.75,0.5, 0.6,0.9,0.7,0.45, 0.55,0.85,0.65,0.4, 0.55,0.9,0.65,0.4, 0.5,0.85,0.6,0.35, 0.55,0.9,0.65,0.4, 0.5,0.85,0.6,0.35, 0.55,0.9,0.65,0.4, 0.6,0.95,0.7,0.45, 0.6,0.9,0.7,0.45, 0.55,0.9,0.65,0.4, 0.6,0.95,0.7,0.45, 0.6,0.9,0.7,0.45, 0.65,1.0,0.75,0.5, 0.7,1.05,0.8,0.55, 0.75,1.05,0.85,0.6, 0.75,1.1,0.9,0.6, 0.8,1.05,0.85,0.6, 0.75,1.0,0.85,0.6, 0.7,1.05,0.8,0.55, 0.65,0.95,0.75,0.5];
const dBluB = [0.0,0.5,0.25,-0.1, 0.05,0.55,0.3,-0.05, 0.0,0.5,0.25,-0.1, 0.05,0.5,0.3,-0.05, 0.0,0.55,0.25,-0.1, 0.05,0.5,0.25,-0.05, 0.0,0.5,0.3,-0.1, 0.05,0.55,0.25,-0.05, 0.0,0.5,0.25,-0.1, 0.05,0.5,0.3,-0.05, 0.0,0.55,0.25,-0.1, 0.05,0.5,0.25,-0.05, 0.0,0.5,0.3,-0.1, 0.05,0.55,0.25,-0.05, 0.0,0.5,0.25,-0.1, 0.05,0.5,0.3,-0.05, 0.0,0.55,0.25,-0.1, 0.05,0.5,0.25,-0.05, 0.0,0.5,0.3,-0.1, 0.05,0.55,0.25,-0.05, 0.0,0.5,0.25,-0.1, 0.05,0.5,0.3,-0.05, 0.0,0.55,0.25,-0.1, 0.05,0.5,0.25,-0.05, 0.0,0.45,0.2,-0.1];
const dCy = [0.0,0.2,-0.05,-0.3, -0.1,0.25,0.0,-0.25, -0.05,0.2,-0.05,-0.3, -0.1,0.3,0.0,-0.25, -0.05,0.2,-0.05,-0.3, -0.1,0.25,0.0,-0.3, -0.05,0.2,-0.05,-0.25, -0.1,0.25,0.0,-0.3, -0.05,0.2,-0.05,-0.35, -0.1,0.25,0.0,-0.3, -0.05,0.3,-0.05,-0.3, -0.1,0.25,0.0,-0.35, -0.1,0.2,-0.05,-0.3, -0.15,0.25,-0.05,-0.4, -0.1,0.2,-0.1,-0.35, -0.15,0.25,-0.05,-0.4, -0.15,0.2,-0.1,-0.4, -0.2,0.2,-0.1,-0.45, -0.15,0.25,-0.1,-0.4, -0.2,0.15,-0.15,-0.5, -0.2,0.2,-0.1,-0.45, -0.25,0.15,-0.15,-0.55, -0.2,0.2,-0.15,-0.5, -0.3,0.1,-0.2,-0.65, -0.25,0.15,-0.3,-0.7];
const dGrn = [-0.15,0.1,-0.1,-0.35, -0.2,0.15,-0.05,-0.4, -0.15,0.1,-0.1,-0.35, -0.2,0.1,-0.05,-0.4, -0.15,0.15,-0.1,-0.35, -0.2,0.1,-0.1,-0.45, -0.15,0.1,-0.05,-0.35, -0.2,0.15,-0.1,-0.4, -0.15,0.1,-0.1,-0.35, -0.2,0.1,-0.05,-0.4, -0.15,0.15,-0.1,-0.35, -0.2,0.1,-0.1,-0.4, -0.15,0.1,-0.05,-0.35, -0.2,0.15,-0.1,-0.4, -0.15,0.1,-0.1,-0.35, -0.2,0.1,-0.05,-0.4, -0.15,0.15,-0.1,-0.35, -0.2,0.1,-0.1,-0.4, -0.15,0.1,-0.05,-0.35, -0.2,0.15,-0.1,-0.4, -0.15,0.1,-0.1,-0.35, -0.2,0.1,-0.05,-0.4, -0.15,0.15,-0.1,-0.35, -0.2,0.1,-0.1,-0.4, -0.15,0.05,-0.1,-0.3];
const dYelC = [-0.1,-0.2,-0.25,-0.15, -0.1,-0.2,-0.3,-0.2, -0.15,-0.25,-0.3,-0.2, -0.1,-0.2,-0.25,-0.15, -0.1,-0.2,-0.3,-0.2, -0.15,-0.2,-0.25,-0.15, -0.1,-0.2,-0.3,-0.2, -0.15,-0.25,-0.3,-0.2, -0.1,-0.2,-0.25,-0.15, -0.15,-0.25,-0.3,-0.2, -0.2,-0.3,-0.35,-0.25, -0.25,-0.35,-0.4,-0.3, -0.3,-0.4,-0.45,-0.35, -0.3,-0.35,-0.45,-0.35, -0.3,-0.4,-0.45,-0.35, -0.35,-0.45,-0.5,-0.4, -0.35,-0.45,-0.55,-0.45, -0.35,-0.4,-0.5,-0.4, -0.35,-0.45,-0.55,-0.45, -0.4,-0.5,-0.55,-0.45, -0.4,-0.5,-0.6,-0.5, -0.45,-0.55,-0.6,-0.5, -0.4,-0.5,-0.65,-0.5, -0.45,-0.55,-0.6,-0.5, -0.5,-0.6,-0.7,-0.55];
const dRedB = [0.3,0.55,0.3,0.05, 0.25,0.5,0.25,0.0, 0.3,0.55,0.3,0.05, 0.2,0.5,0.25,0.0, 0.25,0.55,0.3,0.05, 0.3,0.5,0.25,0.0, 0.25,0.55,0.3,0.05, 0.2,0.5,0.25,0.0, 0.25,0.55,0.3,0.05, 0.3,0.5,0.25,0.0, 0.25,0.55,0.3,0.05, 0.2,0.5,0.25,0.0, 0.25,0.55,0.3,0.05, 0.3,0.5,0.25,0.0, 0.25,0.55,0.3,0.05, 0.2,0.5,0.25,0.0, 0.25,0.55,0.3,0.05, 0.3,0.5,0.25,0.0, 0.25,0.55,0.3,0.05, 0.2,0.5,0.25,0.0, 0.25,0.55,0.3,0.05, 0.3,0.5,0.25,0.0, 0.25,0.55,0.3,0.05, 0.2,0.5,0.25,0.0, 0.15,0.4,0.2,0.1];
const dRedUp = [-0.6,-0.75,-1.05,-0.55, -0.3,-0.5,-0.85,-0.4, -0.1,0.1,-0.15,-0.3, 0.0,0.3,0.0,-0.2, 0.1,0.4,0.1,-0.1, 0.15,0.45,0.15,0.0, 0.2,0.5,0.2,0.05, 0.25,0.55,0.25,0.1, 0.3,0.6,0.3,0.15, 0.35,0.65,0.35,0.2, 0.4,0.7,0.4,0.25, 0.5,0.8,0.5,0.35, 0.6,0.9,0.6,0.45, 0.75,1.05,0.8,0.65, 1.0,1.3,1.05,0.9, 1.2,1.5,1.25,1.1, 1.3,1.6,1.35,1.2, 1.45,1.8,1.5,1.35, 1.55,1.9,1.6,1.45, 1.65,1.95,1.7,1.55, 1.75,2.05,1.8,1.6, 1.8,2.15,1.85,1.65, 1.85,2.1,1.8,1.7, 1.9,2.2,2.15,1.9, 1.8,1.65,2.0,2.1];

// ---------- rendering ----------
const COL = {b:'#0000ff', g:'#008000', r:'#ff0000', c:'#00bfbf', m:'#bf00bf', y:'#bfbf00', k:'#404040'};
const FONT = '"Liberation Sans", Arial, Helvetica, sans-serif';
const AX = '#707070';
const grids = [
  {left:61, top:10, width:427, height:334},
  {left:609, top:10, width:423, height:334},
  {left:49, top:488, width:435, height:345},
  {left:599, top:496, width:430, height:338}
];
const yRange = [[-5,2,1],[-12,2,2],[-6,4,2],[-12,4,2]];
const tickFs = [18,18,19,19];
const xAxes = [], yAxes = [];
grids.forEach((g,i)=>{
  const common = {type:'value', gridIndex:i, splitLine:{show:false},
    axisLine:{show:true, onZero:false, lineStyle:{color:AX, width:1}},
    axisTick:{show:true, inside:true, length:5, lineStyle:{color:AX, width:1}}};
  const xc = Object.assign({}, common, {min:xTicks[0], max:xTicks[xTicks.length-1], interval:5});
  xAxes.push(Object.assign({}, xc, {position:'bottom', axisLabel:{show:true, color:'#000', fontSize:tickFs[i], fontFamily:FONT, margin:5,
    formatter:v=>String(v)}}));
  xAxes.push(Object.assign({}, xc, {position:'top', axisLabel:{show:false}}));
  const yc = Object.assign({}, common, {min:yRange[i][0], max:yRange[i][1], interval:yRange[i][2]});
  yAxes.push(Object.assign({}, yc, {position:'left', axisLabel:{show:true, color:'#000', fontSize:tickFs[i], fontFamily:FONT, margin:5,
    formatter:v=>String(v).replace('-','\u2212')}}));
  yAxes.push(Object.assign({}, yc, {position:'right', axisLabel:{show:false}}));
});
function S(g, color, vals){
  return {type:'line', xAxisIndex:g*2, yAxisIndex:g*2, data: vals.map((v,i)=>[T[i], v]),
    symbol:'none', showSymbol:false, lineStyle:{color:color, width:2}, itemStyle:{color:color},
    animation:false, silent:true};
}
function P(g, color, pairs){
  return {type:'line', xAxisIndex:g*2, yAxisIndex:g*2, data: pairs,
    symbol:'none', showSymbol:false, lineStyle:{color:color, width:2}, itemStyle:{color:color},
    animation:false, silent:true};
}
const series = [
  S(0,COL.b,aBluA), S(0,COL.b,aBluB), S(0,COL.g,aGrnA), S(0,COL.g,aGrnB), S(0,COL.k,aGryB),
  S(0,COL.m,aMagB), S(0,COL.m,aMagA), S(0,COL.y,aYelB), S(0,COL.k,aGryA), S(0,COL.c,aCyB),
  S(0,COL.c,aCyA), S(0,COL.r,aRedB), S(0,COL.r,aRedA), P(0,COL.y,aOut),

  S(1,COL.k,bGry), S(1,COL.g,bGrn), S(1,COL.m,bMag), S(1,COL.b,bBluB), S(1,COL.c,bCyB),
  S(1,COL.c,bCyA), S(1,COL.r,bRedW), S(1,COL.y,bYelB), S(1,COL.b,bBluOsc), S(1,COL.r,bRedUp), P(1,COL.y,bOut),

  S(2,COL.g,cGrn), S(2,COL.r,cRed), S(2,COL.r,cRedB), S(2,COL.b,cBlu), S(2,COL.k,cGry),
  S(2,COL.m,cMag), S(2,COL.m,cMagB), S(2,COL.y,cYelB), S(2,COL.c,cCyB), S(2,COL.c,cCyA), P(2,COL.y,cOut),

  S(3,COL.b,dBlu), S(3,COL.b,dBluB), S(3,COL.g,dGrn), S(3,COL.k,dGry), S(3,COL.r,dRedB),
  S(3,COL.y,dYelC), S(3,COL.m,dMag), S(3,COL.y,dYelB), S(3,COL.c,dCy), S(3,COL.r,dRedUp), P(3,COL.y,dOut)
];

function vText(x, y, text, size, rich){
  return {type:'text', x:x, y:y, rotation:Math.PI/2, silent:true,
    style:{text:text, fill:'#000', font: size+'px '+FONT, align:'center', verticalAlign:'middle',
      textAlign:'center', textVerticalAlign:'middle', rich:rich}};
}
function hText(x, y, text, font){
  return {type:'text', x:x, y:y, silent:true,
    style:{text:text, fill:'#000', font:font, align:'center', verticalAlign:'middle',
      textAlign:'center', textVerticalAlign:'middle'}};
}
const subRich = {
  n:{fontSize:21, fontFamily:FONT, lineHeight:30, fill:'#000'},
  s:{fontSize:14, fontFamily:FONT, lineHeight:14, verticalAlign:'bottom', fill:'#000'}
};
const SERIF = '32px "Liberation Serif", "Times New Roman", serif';
const graphic = [
  vText(15, 177, '{n|Change in real part of z}{s|c}{n| (\u03A9)}', 21, subRich),
  vText(550, 180, '{n|Change in imag. part of z}{s|c}{n| (\u03A9)}', 21, subRich),
  vText(10, 660, 'Change in Electrode\u2212Ground Impedances (\u03A9)', 17.5),
  vText(548, 665, 'Change in Electrode\u2212Ground Impedances (\u03A9)', 17.5),
  hText(275, 377, 'Time in seconds', '19px '+FONT),
  hText(820, 377, 'Time in seconds', '19px '+FONT),
  hText(266, 866, 'Time(s)', '22px '+FONT),
  hText(814, 866, 'Time(s)', '22px '+FONT),
  hText(248, 434, '(a)', SERIF),
  hText(790, 434, '(b)', SERIF),
  hText(250, 918, '(c)', SERIF),
  hText(792, 918, '(d)', SERIF)
];

const chart = echarts.init(document.getElementById('c'), null, {renderer:'canvas', width:1050, height:943});
chart.setOption({
  backgroundColor:'#ffffff',
  animation:false,
  grid: grids.map(g=>Object.assign({show:false, containLabel:false}, g)),
  xAxis: xAxes,
  yAxis: yAxes,
  series: series,
  graphic: graphic
});
</script>
</body></html>
